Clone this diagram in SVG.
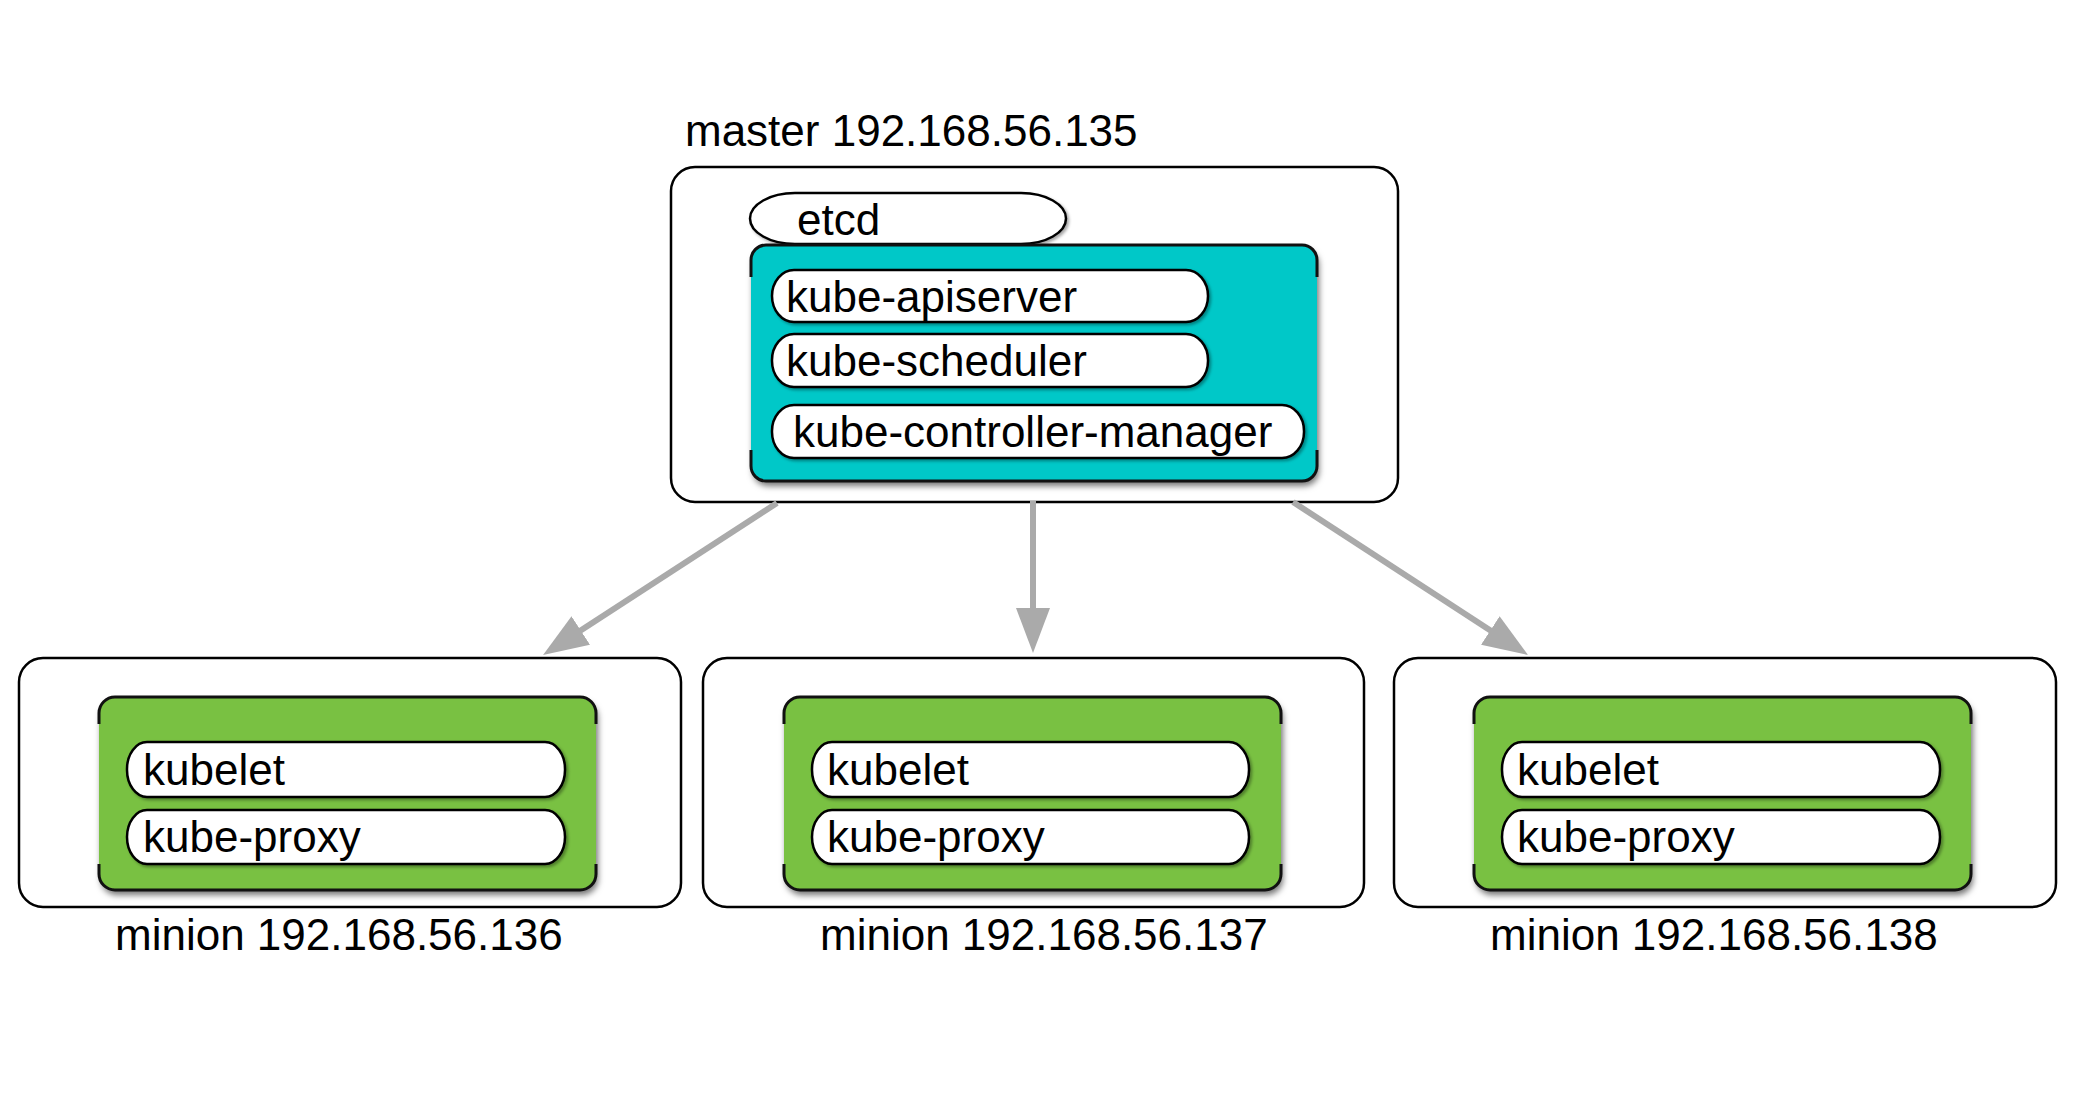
<svg xmlns="http://www.w3.org/2000/svg" width="2083" height="1093" viewBox="0 0 2083 1093">
<defs>
<style>
.host{fill:#fff;stroke:#000;stroke-width:2.5}
.pill{fill:#fff;stroke:#000;stroke-width:2.5;filter:url(#ps)}
.edge{fill:none;stroke:#111;stroke-width:3}
.lbl{font-family:"Liberation Sans",Arial,Helvetica,sans-serif;font-size:44px;fill:#000}
.conn{stroke:#aaa;stroke-width:6;fill:none;marker-end:url(#ah)}
.teal{fill:#00C8C8;filter:url(#ds)}
.green{fill:#79C142;filter:url(#ds)}
</style>
<filter id="ds" x="-5%" y="-5%" width="112%" height="120%">
<feDropShadow dx="2" dy="5" stdDeviation="3" flood-color="#000" flood-opacity="0.55"/>
</filter>
<filter id="ps" x="-5%" y="-10%" width="112%" height="130%">
<feDropShadow dx="2" dy="2" stdDeviation="1.5" flood-color="#000" flood-opacity="0.35"/>
</filter>
<marker id="ah" markerUnits="userSpaceOnUse" markerWidth="46" markerHeight="34" refX="2" refY="17" orient="auto" viewBox="0 0 46 34">
<path d="M0,0 L45,17 L0,34 z" fill="#aaa"/>
</marker>
</defs>
<rect width="2083" height="1093" fill="#fff"/>

<g id="master">
<text class="lbl" x="685" y="146">master 192.168.56.135</text>
<rect class="host" x="671" y="167" width="727" height="335" rx="24" ry="24"/>
<rect id="etcd" class="pill" x="750" y="193" width="316" height="51" rx="45" ry="25.5"/>
<text class="lbl" x="797" y="235">etcd</text>
<g id="master-services">
<rect class="teal" x="751" y="245" width="566" height="236" rx="15" ry="15"/>
<path class="edge" d="M751,277 L751,260 A15,15 0 0 1 766,245 L1302,245 A15,15 0 0 1 1317,260 L1317,277"/>
<path class="edge" d="M751,450 L751,466 A15,15 0 0 0 766,481 L1302,481 A15,15 0 0 0 1317,466 L1317,450"/>
<g id="kube-apiserver">
<rect class="pill" x="772" y="270" width="436" height="52" rx="22" ry="26"/>
<text class="lbl" x="786" y="312">kube-apiserver</text>
</g>
<g id="kube-scheduler">
<rect class="pill" x="772" y="334" width="436" height="53" rx="22" ry="26"/>
<text class="lbl" x="786" y="376">kube-scheduler</text>
</g>
<g id="kube-controller-manager">
<rect class="pill" x="772" y="405" width="532" height="53" rx="22" ry="26"/>
<text class="lbl" x="793" y="447">kube-controller-manager</text>
</g>
</g>
</g>

<g id="minion1">
<rect class="host" x="19" y="658" width="662" height="249" rx="24" ry="24"/>
<rect class="green" x="99" y="697" width="497" height="193" rx="16" ry="16"/>
<path class="edge" d="M99,724 L99,713 A16,16 0 0 1 115,697 L580,697 A16,16 0 0 1 596,713 L596,724"/>
<path class="edge" d="M99,864 L99,874 A16,16 0 0 0 115,890 L580,890 A16,16 0 0 0 596,874 L596,864"/>
<rect class="pill" x="127" y="742" width="438" height="55" rx="20" ry="27"/>
<text class="lbl" x="143" y="785">kubelet</text>
<rect class="pill" x="127" y="810" width="438" height="54" rx="20" ry="27"/>
<text class="lbl" x="143" y="852">kube-proxy</text>
<text class="lbl" x="115" y="950">minion 192.168.56.136</text>
</g>

<g id="minion2">
<rect class="host" x="703" y="658" width="661" height="249" rx="24" ry="24"/>
<rect class="green" x="784" y="697" width="497" height="193" rx="16" ry="16"/>
<path class="edge" d="M784,724 L784,713 A16,16 0 0 1 800,697 L1265,697 A16,16 0 0 1 1281,713 L1281,724"/>
<path class="edge" d="M784,864 L784,874 A16,16 0 0 0 800,890 L1265,890 A16,16 0 0 0 1281,874 L1281,864"/>
<rect class="pill" x="812" y="742" width="437" height="55" rx="20" ry="27"/>
<text class="lbl" x="827" y="785">kubelet</text>
<rect class="pill" x="812" y="810" width="437" height="54" rx="20" ry="27"/>
<text class="lbl" x="827" y="852">kube-proxy</text>
<text class="lbl" x="820" y="950">minion 192.168.56.137</text>
</g>

<g id="minion3">
<rect class="host" x="1394" y="658" width="662" height="249" rx="24" ry="24"/>
<rect class="green" x="1474" y="697" width="497" height="193" rx="16" ry="16"/>
<path class="edge" d="M1474,724 L1474,713 A16,16 0 0 1 1490,697 L1955,697 A16,16 0 0 1 1971,713 L1971,724"/>
<path class="edge" d="M1474,864 L1474,874 A16,16 0 0 0 1490,890 L1955,890 A16,16 0 0 0 1971,874 L1971,864"/>
<rect class="pill" x="1502" y="742" width="438" height="55" rx="20" ry="27"/>
<text class="lbl" x="1517" y="785">kubelet</text>
<rect class="pill" x="1502" y="810" width="438" height="54" rx="20" ry="27"/>
<text class="lbl" x="1517" y="852">kube-proxy</text>
<text class="lbl" x="1490" y="950">minion 192.168.56.138</text>
</g>

<g id="connectors">
<line class="conn" x1="777" y1="503" x2="579.1" y2="631.6"/>
<line class="conn" x1="1033" y1="501" x2="1033" y2="610"/>
<line class="conn" x1="1293" y1="502" x2="1492" y2="631.5"/>
</g>
</svg>
